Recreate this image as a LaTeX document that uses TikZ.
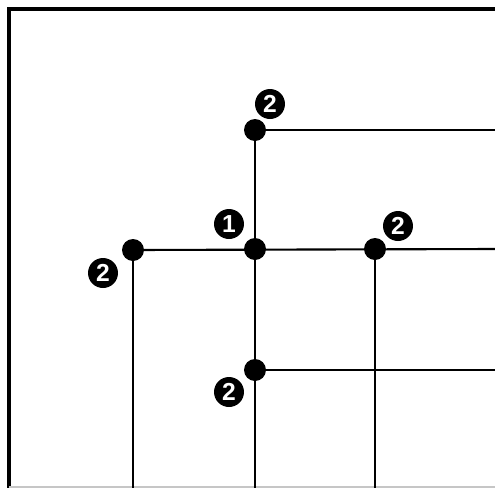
\documentclass[tikz,border=0pt]{standalone}
\usepackage{fontspec}
\setsansfont{Liberation Sans}
\usepackage{tikz}
\usetikzlibrary{positioning}
\tikzset{
  pt/.style={circle, fill=black, inner sep=0pt, minimum size=0.44cm},
  num/.style={circle, fill=black, text=white, inner sep=0pt, minimum size=0.6cm, font=\sffamily\bfseries\fontsize{14}{14}\selectfont},
  wire/.style={line width=1.2pt},
  frm/.style={line width=2.6pt},
}
\begin{document}
\begin{tikzpicture}[x=0.02cm, y=-0.02cm]
\useasboundingbox (0,0) rectangle (495,488);
% frame
\coordinate (fr) at (495,9);
\coordinate (fc) at (9,9);
\coordinate (fb) at (9,488);
\draw[frm] (fr) -- (fc) -- (fb);
\draw[gray!45, line width=0.6pt] (9,487) -- (495,487);
% junction points
\node[pt] (t) at (255,130) {};
\node[pt] (l) at (133,250) {};
\node[pt] (c) at (255,249) {};
\node[pt] (r) at (375,249) {};
\node[pt] (b) at (255,370) {};
% open ends at the picture edge
\coordinate (te) at (495,130);
\coordinate (le) at (495,249);
\coordinate (be) at (495,370);
\coordinate (ld) at (133,488);
\coordinate (cd) at (255,488);
\coordinate (rd) at (375,488);
\draw[wire] (t.center) -- (te);
\draw[wire] (t.center) -- (cd);
\draw[wire] (l.center) -- (le);
\draw[wire] (l.center) -- (ld);
\draw[wire] (r.center) -- (rd);
\draw[wire] (b.center) -- (be);
% labels
\node[num] (nt) at (270,104) {2};
\node[num] (nl) at (103,273) {2};
\node[num] (nc) at (229,224) {1};
\node[num] (nr) at (398,226) {2};
\node[num] (nb) at (229,392) {2};
\end{tikzpicture}
\end{document}
